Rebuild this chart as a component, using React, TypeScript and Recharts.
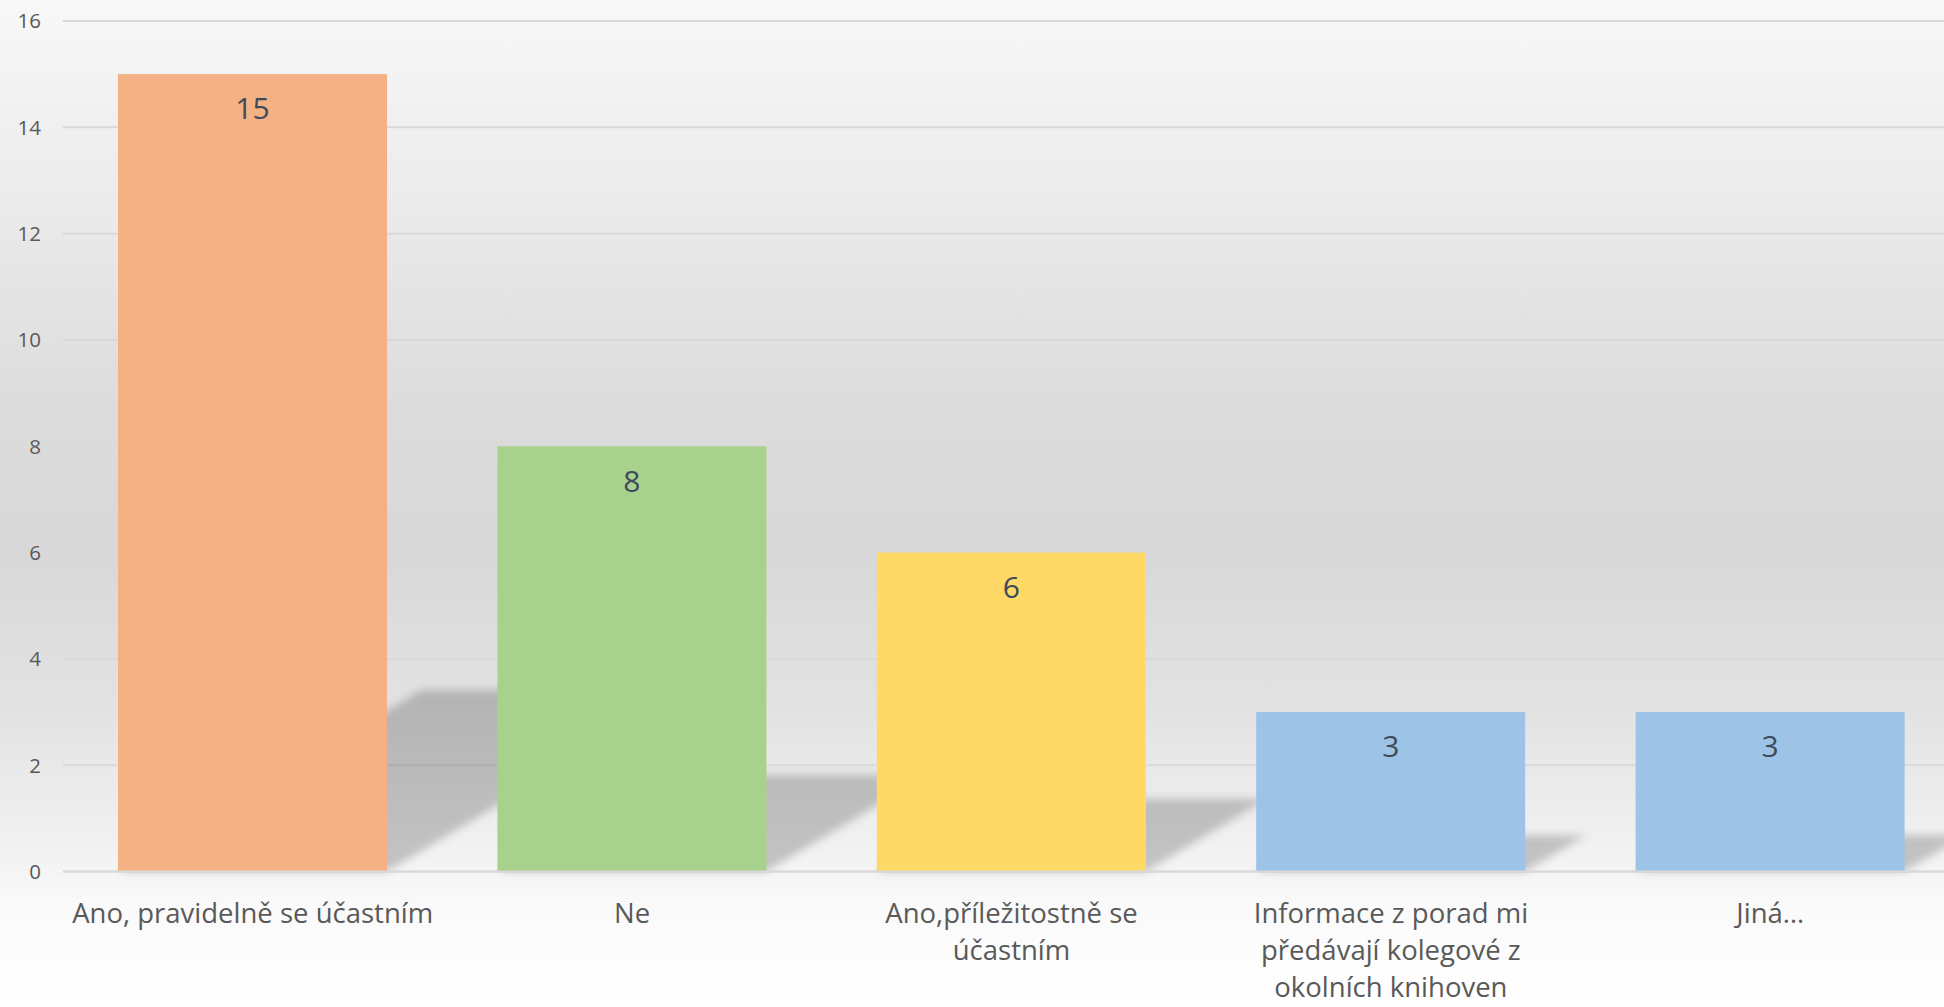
import { Bar, BarChart, CartesianGrid, Cell, LabelList, XAxis, YAxis } from 'recharts'

// category labels, already wrapped the way the original shows them
const categoryLines = [
    ['Ano, pravidelně se účastním'],
    ['Ne'],
    ['Ano,příležitostně se', 'účastním'],
    ['Informace z porad mi', 'předávají kolegové z', 'okolních knihoven'],
    ['Jiná…'],
]
const categories = categoryLines.map((l) => l.join(' '))
const counts = [15, 8, 6, 3, 3]
const barColors = ['#F4B183', '#A9D18E', '#FFD966', '#9DC3E6', '#9DC3E6']
const yTicks = [0, 2, 4, 6, 8, 10, 12, 14, 16]

const data = categories.map((name, i) => ({ name, value: counts[i] }))

const font = '"Open Sans", "DejaVu Sans", sans-serif'

// bar with a soft perspective shadow falling back to the right
const ShadowBar = (props: any) => {
    const { x, y, width, height, fill } = props
    const base = y + height
    const h = height * 0.228
    const dx = h * 1.67
    const pts = `${x},${base} ${x + width},${base} ${x + width + dx},${base - h} ${x + dx},${base - h}`
    return (
        <g>
            <polygon points={pts} fill="rgba(0,0,0,0.2)" filter="url(#barShadow)" />
            <rect x={x} y={y} width={width} height={height} fill={fill} />
        </g>
    )
}

const CategoryTick = (props: any) => {
    const { x, y, payload } = props
    const lines = categoryLines[payload.index] || [payload.value]
    return (
        <g>
            {lines.map((line, i) => (
                <text key={i} x={x} y={y + 41 + i * 37} textAnchor="middle" dominantBaseline="central"
                    fontSize={27.5} fill="#595959" fontFamily={font}>
                    {line}
                </text>
            ))}
        </g>
    )
}

export default function App() {
    return (
        <div style={{
            position: 'absolute', left: 0, top: 0, width: 1944, height: 1007, overflow: 'hidden',
            background: 'linear-gradient(to bottom, #f8f8f8 0%, #ebebeb 20%, #dcdcdc 40%, #d8d8d8 55%, #e2e2e2 70%, #f1f1f1 84%, #fafafa 90%, #ffffff 100%)',
            fontFamily: font,
        }}>
            <BarChart width={1970} height={1007} data={data} barCategoryGap="14.5%"
                margin={{ top: 21, right: 10, left: 0, bottom: 0 }}>
                <defs>
                    <filter id="barShadow" x="-20%" y="-20%" width="140%" height="140%">
                        <feGaussianBlur stdDeviation="4" />
                    </filter>
                </defs>
                <CartesianGrid vertical={false} stroke="#d9d9d9" strokeWidth={2} />
                <XAxis dataKey="name" axisLine={{ stroke: '#d9d9d9', strokeWidth: 2 }} tickLine={false}
                    tickSize={0} tickMargin={0} height={135.4} interval={0} tick={<CategoryTick />} />
                <YAxis domain={[0, 16]} ticks={yTicks} width={63} axisLine={false} tickLine={false}
                    tickSize={0} tickMargin={22} tick={{ fontSize: 20.5, fill: '#595959', fontFamily: font }} />
                <Bar dataKey="value" shape={<ShadowBar />} isAnimationActive={false}>
                    {data.map((d, i) => (
                        <Cell key={d.name} fill={barColors[i]} />
                    ))}
                    <LabelList dataKey="value" position="insideTop" offset={24}
                        style={{ fontSize: 30, fill: '#404a5a', fontFamily: font }} />
                </Bar>
            </BarChart>
        </div>
    )
}
